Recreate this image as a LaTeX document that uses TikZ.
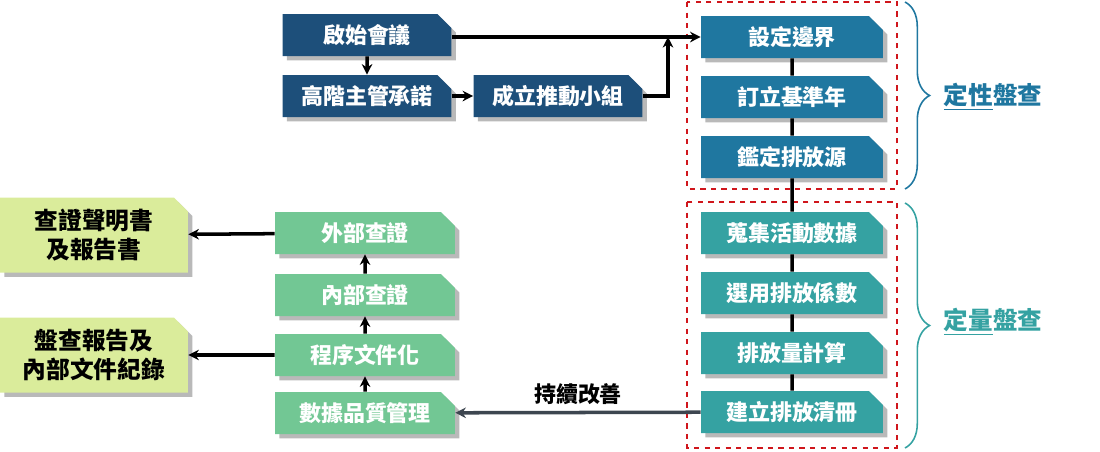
\documentclass[tikz,border=0pt]{standalone}
\usepackage{fontspec}
\setmainfont{Noto Sans CJK TC}
\usetikzlibrary{shapes.misc,shadows,arrows.meta,decorations.pathreplacing}
\definecolor{navy}{HTML}{1D4F7A}
\definecolor{qblue}{HTML}{1F77A0}
\definecolor{qteal}{HTML}{35A2A2}
\definecolor{qgreen}{HTML}{72C794}
\definecolor{qyellow}{HTML}{DAEC9B}
\definecolor{qred}{HTML}{D0161C}
\definecolor{slate}{HTML}{3D4650}
\tikzset{
  box/.style={chamfered rectangle,chamfered rectangle corners=north east,chamfered rectangle xsep=4pt,chamfered rectangle ysep=4pt,
    draw=none,text=white,font=\bfseries\fontsize{12.5}{14}\selectfont,inner sep=0pt,
    drop shadow={shadow xshift=2.5pt,shadow yshift=-2.5pt,fill=gray!55,opacity=1}},
  start/.style={box,fill=navy,minimum width=3.38cm,minimum height=0.84cm},
  qual/.style={box,fill=qblue,minimum width=3.64cm,minimum height=0.84cm},
  quan/.style={box,fill=qteal,minimum width=3.64cm,minimum height=0.84cm},
  ver/.style={box,fill=qgreen,minimum width=3.6cm,minimum height=0.84cm},
  result/.style={box,fill=qyellow,text=black,minimum width=3.76cm,minimum height=1.5cm,align=center,font=\bfseries\fontsize{13.5}{17}\selectfont},
  arr/.style={-{Stealth[length=6pt,width=6pt]},line width=2pt},
  link/.style={line width=2pt},
  zone/.style={draw=qred,dashed,line width=1.1pt},
  brace/.style={line width=0.9pt,decorate,decoration={brace,amplitude=14pt}},
}
\begin{document}
\begin{tikzpicture}[x=0.02cm,y=-0.02cm]
\useasboundingbox (0,0) rectangle (1100,451);
%zones
\draw[zone](687,2)rectangle(897,189);
\draw[zone](687,202)rectangle(897,448);
%start
\node[start](kick)at(367,35){啟始會議};
\node[start](commit)at(367,96){高階主管承諾};
\node[start](team)at(558,96){成立推動小組};
%qualitative
\node[qual](bound)at(792,37){設定邊界};
\node[qual](base)at(792,97){訂立基準年};
\node[qual](source)at(792,157){鑑定排放源};
%quantitative
\node[quan](collect)at(792,233){蒐集活動數據};
\node[quan](factor)at(792,293){選用排放係數};
\node[quan](calc)at(792,353){排放量計算};
\node[quan](list)at(792,412){建立排放清冊};
%verification
\node[ver](ext)at(365,233){外部查證};
\node[ver](int)at(365,295){內部查證};
\node[ver](doc)at(365,355){程序文件化};
\node[ver](qual)at(365,413){數據品質管理};
%outputs
\node[result](stmt)at(94,235){查證聲明書\\及報告書};
\node[result](rep)at(94,355){盤查報告及\\內部文件紀錄};
%links
\coordinate(merge)at(668,37);
\draw[arr](kick.east|-bound)--(bound.west);
\draw[arr](commit.east)--(team.west);
\draw[arr](team.east)-|(merge);
\draw[arr](kick)--(commit);
\foreach \a/\b in {bound/base,base/source,source/collect,collect/factor,factor/calc,calc/list}
  \draw[link](\a)--(\b);
\foreach \a/\b in {qual/doc,doc/int,int/ext}
  \draw[arr](\a)--(\b);
\draw[arr](ext)--(stmt);
\draw[arr](doc)--(rep);
\draw[arr,draw=slate](list)--node[above,text=black,font=\bfseries\fontsize{12.5}{14}\selectfont]{持續改善}(qual);
%braces
\draw[brace,draw=qblue](905,2)--(905,189);
\draw[brace,draw=qteal](905,203)--(905,448);
\node[text=qblue,font=\bfseries\fontsize{14}{16}\selectfont](lqual)at(993,97){\underline{定性}盤查};
\node[text=qteal,font=\bfseries\fontsize{14}{16}\selectfont](lquan)at(993,322){\underline{定量}盤查};
\end{tikzpicture}
\end{document}
